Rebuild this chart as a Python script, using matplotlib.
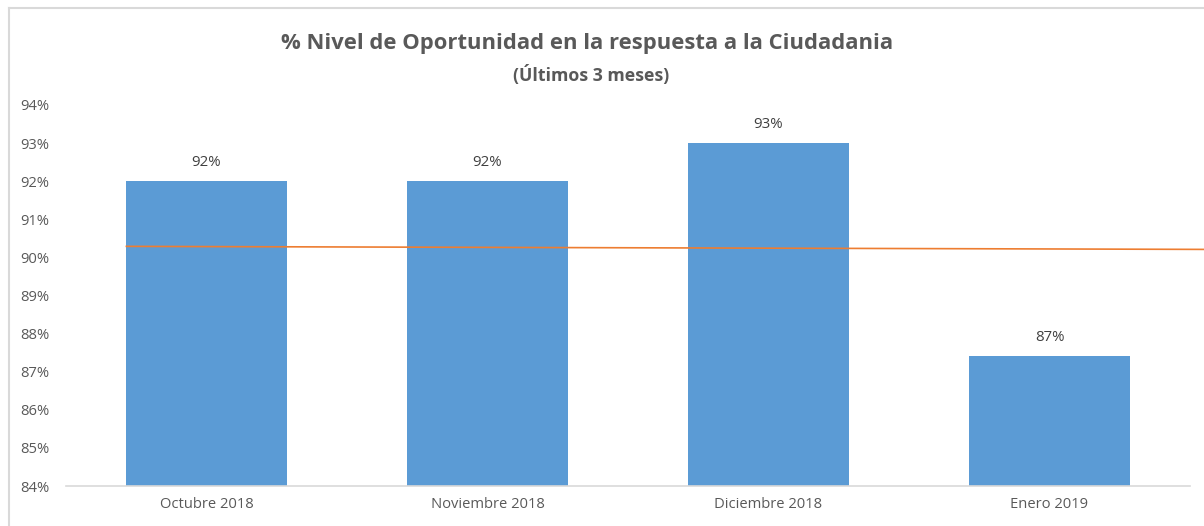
import matplotlib.pyplot as plt
from matplotlib.lines import Line2D

# data
months = ['Octubre 2018', 'Noviembre 2018', 'Diciembre 2018', 'Enero 2019']
values = [92.0, 92.0, 93.0, 87.4]
labels = ['92%', '92%', '93%', '87%']
trend_x = [-0.285, 3.55]
trend_y = [90.29, 90.21]
yticks = list(range(84, 95))

plt.rcParams['font.family'] = ['Open Sans', 'DejaVu Sans']
txt = '#595959'

fig = plt.figure(figsize=(12.04, 5.26), dpi=100)
ax = fig.add_axes([66 / 1204, 1 - 486 / 526, (1190 - 66) / 1204, (486 - 105) / 526])

x = list(range(len(months)))
ax.bar(x, [v - 84 for v in values], bottom=84, width=0.57, color='#5B9BD5', zorder=2)
ax.plot(trend_x, trend_y, color='#ED7D31', lw=1.2, zorder=3, clip_on=False)

for xi, v, lab in zip(x, values, labels):
    ax.text(xi, v + 0.3, lab, ha='center', va='bottom', fontsize=10.8, color='#404040')

ax.set_xlim(-0.5, 3.5)
ax.set_ylim(84, 94)
ax.set_xticks(x)
ax.set_xticklabels(months, fontsize=10.6, color=txt)
ax.set_yticks(yticks)
ax.set_yticklabels([f'{t}%' for t in yticks], fontsize=10.6, color=txt)
ax.tick_params(length=0)
ax.tick_params(axis='x', pad=8)
ax.tick_params(axis='y', pad=12)
for s in ['top', 'right', 'left']:
    ax.spines[s].set_visible(False)
ax.spines['bottom'].set_color('#D9D9D9')
ax.spines['bottom'].set_linewidth(1.2)

fig.text(587 / 1204, 1 - 44 / 526, '% Nivel de Oportunidad en la respuesta a la Ciudadania',
         ha='center', va='center', fontsize=15.8, fontweight='bold', color=txt)
fig.text(591 / 1204, 1 - 75 / 526, '(Últimos 3 meses)',
         ha='center', va='center', fontsize=12.8, fontweight='bold', color=txt)

# chart border
fig.add_artist(Line2D([8.5 / 1204, 8.5 / 1204], [0, 1 - 8 / 526], transform=fig.transFigure,
                      color='#D9D9D9', lw=1.5))
fig.add_artist(Line2D([8.5 / 1204, 1], [1 - 8 / 526, 1 - 8 / 526], transform=fig.transFigure,
                      color='#D9D9D9', lw=1.5))

fig.savefig('out.png', dpi=100)
